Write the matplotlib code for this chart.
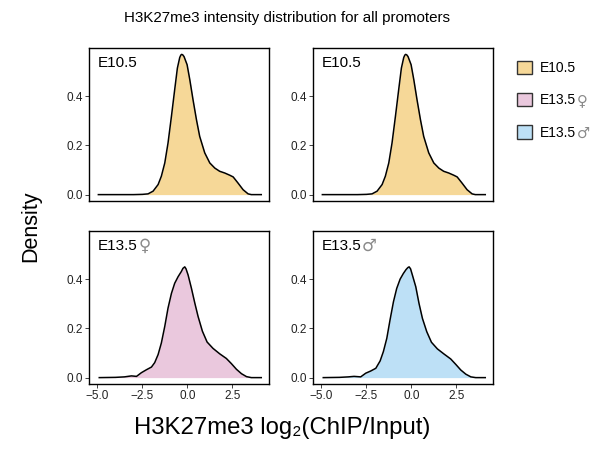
import numpy as np
import matplotlib
matplotlib.use('Agg')
import matplotlib.pyplot as plt
from matplotlib.patches import Patch

plt.rcParams['font.family'] = ['Liberation Sans', 'DejaVu Sans']

# density curves
e105_x = [-4.95, -3.5, -3.0, -2.5, -2.19, -1.91, -1.63, -1.45, -1.26, -1.08, -0.89, -0.71,
          -0.56, -0.43, -0.37, -0.32, -0.26, -0.19, -0.02, 0.13, 0.31, 0.5, 0.68, 0.96,
          1.24, 1.52, 1.79, 2.07, 2.35, 2.54, 2.81, 3.09, 3.37, 3.55, 3.8, 4.1]
e105_y = [0.0, 0.0, 0.0, 0.001, 0.003, 0.014, 0.041, 0.075, 0.129, 0.21, 0.319, 0.427,
          0.515, 0.558, 0.568, 0.571, 0.569, 0.562, 0.529, 0.468, 0.386, 0.305, 0.237, 0.17,
          0.129, 0.108, 0.095, 0.088, 0.079, 0.072, 0.047, 0.02, 0.003, 0.0, 0.0, 0.0]

fem_x = [-4.9, -4.0, -3.5, -3.11, -2.83, -2.56, -2.28, -2.0, -1.82, -1.63, -1.45, -1.26,
         -1.08, -0.89, -0.71, -0.52, -0.34, -0.25, -0.15, -0.08, 0.035, 0.22, 0.41, 0.59,
         0.83, 1.09, 1.42, 1.79, 2.16, 2.44, 2.72, 3.0, 3.28, 3.55, 3.8, 4.1]
fem_y = [0.0, 0.001, 0.003, 0.007, 0.005, 0.02, 0.032, 0.043, 0.061, 0.094, 0.141, 0.209,
         0.283, 0.343, 0.384, 0.411, 0.432, 0.445, 0.451, 0.443, 0.418, 0.364, 0.303, 0.249,
         0.189, 0.145, 0.119, 0.097, 0.078, 0.057, 0.034, 0.016, 0.004, 0.0, 0.0, 0.0]

male_x = [-4.9, -4.0, -3.5, -3.19, -2.82, -2.54, -2.26, -1.98, -1.74, -1.56, -1.37, -1.19,
          -1.0, -0.82, -0.63, -0.45, -0.3, -0.2, -0.13, -0.05, 0.05, 0.24, 0.42, 0.61,
          0.85, 1.11, 1.44, 1.81, 2.18, 2.46, 2.74, 3.02, 3.3, 3.57, 3.8, 4.1]
male_y = [0.0, 0.001, 0.003, 0.005, 0.003, 0.018, 0.027, 0.038, 0.068, 0.106, 0.16, 0.235,
          0.309, 0.363, 0.401, 0.424, 0.44, 0.448, 0.451, 0.443, 0.418, 0.37, 0.302, 0.241,
          0.187, 0.144, 0.117, 0.096, 0.076, 0.054, 0.031, 0.014, 0.003, 0.0, 0.0, 0.0]

panel_labels = ['E10.5', 'E10.5', 'E13.5', 'E13.5']
panel_marks = ['', '', '\u2640', '\u2642']
legend_labels = ['E10.5', 'E13.5', 'E13.5']
legend_marks = ['', '\u2640', '\u2642']
colors = ['#F6D898', '#EAC8DD', '#BDE0F6']

curves = [(e105_x, e105_y, colors[0]), (e105_x, e105_y, colors[0]),
          (fem_x, fem_y, colors[1]), (male_x, male_y, colors[2])]

fig = plt.figure(figsize=(6.05, 4.5), dpi=100)

lefts = [89 / 605, 313 / 605]
w = 180 / 605
bottoms = [1 - 201 / 450, 1 - 384 / 450]
h = 153 / 450

for i, (xs, ys, col) in enumerate(curves):
    r, c = divmod(i, 2)
    ax = fig.add_axes([lefts[c], bottoms[r], w, h])
    ax.fill_between(xs, ys, 0, color=col, lw=0)
    ax.plot(xs, ys, color='black', lw=1.1, solid_joinstyle='round')
    ax.set_xlim(-5.47, 4.53)
    ax.set_ylim(-0.026, 0.597)
    ax.set_yticks([0.0, 0.2, 0.4])
    ax.set_yticklabels(['0.0', '0.2', '0.4'])
    ax.set_xticks([-5.0, -2.5, 0.0, 2.5])
    ax.set_xticklabels(['\u22125.0', '\u22122.5', '0.0', '2.5'])
    ax.tick_params(labelsize=8.5, length=3, width=0.6, colors='#222222', pad=1.5)
    if r == 0:
        ax.tick_params(axis='x', bottom=False, labelbottom=False)
    for s in ax.spines.values():
        s.set_linewidth(1.0)
    t = ax.text(0.05, 0.95, panel_labels[i], transform=ax.transAxes, ha='left', va='top',
                fontsize=11)
    if panel_marks[i]:
        ax.annotate(panel_marks[i], xy=(1.0, 0.0), xycoords=t, ha='left', va='bottom',
                    fontsize=12, color='#8a8a8a', family='DejaVu Sans',
                    xytext=(0.3, -1.5), textcoords='offset points')

fig.text(287 / 605, 1 - 18 / 450, 'H3K27me3 intensity distribution for all promoters',
         ha='center', va='center', fontsize=10.9)
fig.text(31 / 605, 1 - 226 / 450, 'Density', rotation=90, ha='center', va='center',
         fontsize=15.5)
fig.text(282 / 605, 1 - 428 / 450, 'H3K27me3 log\u2082(ChIP/Input)', ha='center',
         va='center', fontsize=17.2)

handles = [Patch(facecolor=c, edgecolor='#333333', lw=1) for c in colors]
leg = fig.legend(handles, legend_labels, loc='upper left',
                 bbox_to_anchor=(504 / 605, 1 - 48 / 450),
                 frameon=False, fontsize=10, handlelength=1.1, handleheight=1.1,
                 labelspacing=1.3, handletextpad=0.6)
fig.canvas.draw()
for txt, mark in zip(leg.get_texts(), legend_marks):
    if mark:
        bb = txt.get_window_extent()
        fig.text((bb.x1 + 0.5) / fig.bbox.width, (bb.y0 - 1) / fig.bbox.height, mark,
                 fontsize=10.5, color='#8a8a8a', family='DejaVu Sans',
                 ha='left', va='bottom')

fig.savefig('out.png', dpi=100)
